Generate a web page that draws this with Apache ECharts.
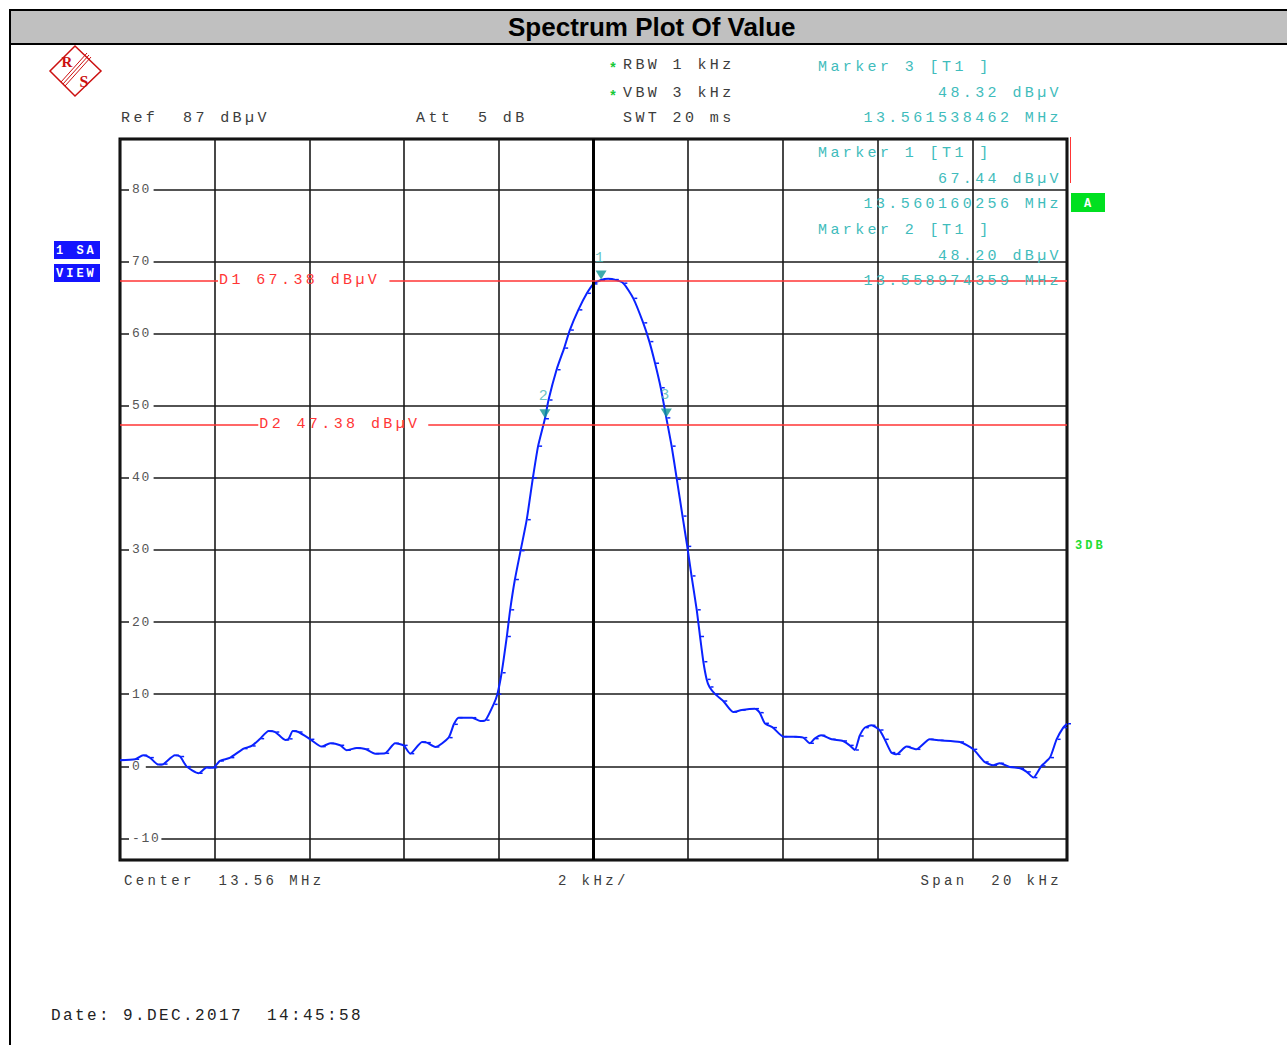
<!DOCTYPE html>
<html><head><meta charset="utf-8">
<script src="https://cdn.jsdelivr.net/npm/echarts@6/dist/echarts.min.js"></script>
<style>
html,body{margin:0;padding:0;background:#fff;}
#c{width:1287px;height:1045px;}
#c text{white-space:pre;}
#c text[style*="Mono"]{letter-spacing:3.4px;}
#c text[style*="Mono"][style*="13px"]{letter-spacing:1.7px;}
#c text[style*="Mono"][style*="16px"]{letter-spacing:2.4px;}
#c text[style*="Mono"][style*="12px"]{letter-spacing:3px;}
</style></head><body><div id="c"></div>
<script>
// ---- data (frequency offset from 13.56 MHz in kHz, level in dBµV)
const freqOffsetKHz = [-10.0,-9.68,-9.51,-9.37,-9.19,-9.08,-8.84,-8.73,-8.59,-8.34,-8.17,-8.03,-7.89,-7.67,-7.39,-7.22,-7.04,-6.86,-6.72,-6.51,-6.44,-6.35,-6.23,-5.98,-5.74,-5.56,-5.35,-5.21,-5.00,-4.82,-4.61,-4.40,-4.19,-4.01,-3.87,-3.62,-3.52,-3.34,-3.06,-2.95,-2.85,-2.56,-2.39,-2.28,-2.11,-2.03,-1.94,-1.83,-1.76,-1.66,-1.54,-1.41,-1.28,-1.17,-1.026,-0.95,-0.78,-0.62,-0.50,-0.32,-0.14,0.0,0.16,0.31,0.45,0.63,0.84,1.05,1.18,1.30,1.42,1.538,1.65,1.76,1.88,1.98,2.07,2.18,2.25,2.32,2.39,2.45,2.57,2.74,2.95,3.13,3.41,3.51,3.62,3.79,4.01,4.22,4.43,4.57,4.67,4.81,5.03,5.27,5.41,5.52,5.62,5.73,5.87,6.04,6.15,6.29,6.40,6.61,6.82,7.10,7.31,7.74,8.02,8.26,8.44,8.58,8.79,9.01,9.15,9.29,9.46,9.64,9.78,9.92,10.0];
const levelDbuV = [0.85,0.97,1.52,1.2,0.23,0.3,1.52,1.35,-0.05,-0.97,-0.18,-0.2,0.74,1.2,2.45,2.82,3.83,4.89,4.75,3.65,3.8,4.89,4.75,3.74,2.73,3.19,2.91,2.22,2.54,2.4,1.75,1.8,3.19,2.9,1.75,3.37,3.28,2.68,3.97,5.82,6.74,6.74,6.28,6.4,8.59,10.0,12.97,18.0,21.7,25.9,29.9,34.2,40.0,44.4,48.2,50.8,55.0,58.0,60.5,63.3,65.6,66.9,67.44,67.6,67.5,67.0,64.9,61.5,58.9,55.9,52.5,48.32,44.4,39.8,34.7,30.5,26.4,21.7,18.0,14.5,12.05,11.0,10.0,9.05,7.52,7.8,7.99,7.44,5.96,5.36,4.11,4.11,3.97,3.19,3.83,4.29,3.74,3.51,2.9,2.26,4.2,5.36,5.68,5.03,3.74,1.9,1.66,2.73,2.35,3.74,3.6,3.37,2.35,0.6,0.14,0.42,-0.1,-0.28,-0.78,-1.57,0.05,1.2,3.74,5.36,5.9];

const markerNames = ['1','2','3'];
const markerFreqKHz = [0.160256, -1.025641, 1.538462];
const markerFreqMHz = ['13.560160256','13.558974359','13.561538462'];
const markerLevel = [67.44, 48.20, 48.32];

const displayLineNames = ['D1','D2'];
const displayLineLevels = [67.38, 47.38];

const refLevel = 87, bottomLevel = -13;
const spanKHz = [-10, 10], divKHz = 2;

const headerLeft = ['Ref  87 dBµV', 'Att  5 dB'];
const headerBw = ['RBW 1 kHz', 'VBW 3 kHz', 'SWT 20 ms'];
const footer = ['Center  13.56 MHz', '2 kHz/', 'Span  20 kHz'];
const dateText = 'Date: 9.DEC.2017  14:45:58';
const titleText = 'Spectrum Plot Of Value';

// ---- layout (not data)
const dGap = [[-7.93, -4.31], [-7.08, -3.49]]; // where each display-line label interrupts the line

const MONO = 'Liberation Mono';
const TEAL = '#3fbcbc', GREY = '#3c3c3c', RED = '#ff3535', BLUE = '#0a22ff';

function t(x, y, text, o) {
  o = o || {};
  return { type: 'text', x: x, y: y, z: o.z || 10, silent: true,
    style: { text: text, fill: o.color || GREY, fontFamily: o.font || MONO, fontSize: o.size || 15,
      fontWeight: o.weight || 'normal', textAlign: o.align || 'left', textVerticalAlign: 'middle' } };
}

const graphics = [
  { type: 'rect', shape: { x: 10, y: 11, width: 1277, height: 33 }, style: { fill: '#c0c0c0' }, z: -5, silent: true },
  { type: 'line', shape: { x1: 9, y1: 10, x2: 1287, y2: 10 }, style: { stroke: '#000', lineWidth: 2 }, z: -4, silent: true },
  { type: 'line', shape: { x1: 9, y1: 44, x2: 1287, y2: 44 }, style: { stroke: '#000', lineWidth: 2 }, z: -4, silent: true },
  { type: 'line', shape: { x1: 10, y1: 9, x2: 10, y2: 1045 }, style: { stroke: '#000', lineWidth: 2 }, z: -4, silent: true },
  // R&S logo
  { type: 'polygon', shape: { points: [[75, 46], [101, 71], [75, 96], [50, 71]] }, style: { fill: 'none', stroke: '#cc1010', lineWidth: 1.5 }, silent: true },
  { type: 'line', shape: { x1: 89, y1: 55, x2: 63, y2: 84 }, style: { stroke: '#cc1010', lineWidth: 1 }, silent: true },
  { type: 'line', shape: { x1: 91, y1: 57, x2: 65, y2: 86 }, style: { stroke: '#cc1010', lineWidth: 1 }, silent: true },
  { type: 'line', shape: { x1: 87, y1: 53, x2: 61, y2: 82 }, style: { stroke: '#cc1010', lineWidth: 1 }, silent: true },
  t(67, 62, 'R', { font: 'Liberation Serif', size: 15, weight: 'bold', color: '#cc1010', align: 'center' }),
  t(84, 81, 'S', { font: 'Liberation Serif', size: 16, weight: 'bold', color: '#cc1010', align: 'center' }),
  // header
  t(121, 118, headerLeft[0]), t(416, 118, headerLeft[1]),
  t(613, 67, '*', { color: '#18c838', weight: 'bold', font: 'Liberation Sans', size: 14, align: 'center' }),
  t(613, 95, '*', { color: '#18c838', weight: 'bold', font: 'Liberation Sans', size: 14, align: 'center' }),
  t(623, 65, headerBw[0]), t(623, 93, headerBw[1]), t(623, 118, headerBw[2]),
  // footer
  t(124, 881, footer[0], { size: 14 }), t(558, 881, footer[1], { size: 14 }), t(1062, 881, footer[2], { size: 14, align: 'right' }),
  t(51, 1016, dateText, { size: 16, color: '#222' }),
  // status boxes
  { type: 'rect', shape: { x: 54, y: 241, width: 46, height: 18 }, style: { fill: '#1414ff' }, silent: true },
  { type: 'rect', shape: { x: 54, y: 264, width: 46, height: 18 }, style: { fill: '#1414ff' }, silent: true },
  t(56, 251, '1 SA', { color: '#fff', weight: 'bold', size: 12 }),
  t(56, 274, 'VIEW', { color: '#fff', weight: 'bold', size: 12 }),
  { type: 'rect', shape: { x: 1071, y: 193, width: 34, height: 19 }, style: { fill: '#00e020' }, silent: true },
  t(1089, 204, 'A', { color: '#fff', weight: 'bold', size: 12, align: 'center' }),
  t(1075, 546, '3DB', { color: '#22dd33', weight: 'bold', size: 12 }),
  { type: 'line', shape: { x1: 1070.5, y1: 137, x2: 1070.5, y2: 183 }, style: { stroke: RED, lineWidth: 1 }, silent: true }
];

// marker readouts: marker 3 above the grid, markers 1 and 2 inside
const readoutRows = [[2, 67], [0, 153], [1, 230]];
readoutRows.forEach(function (r) {
  const i = r[0], y = r[1];
  graphics.push(t(818, y, 'Marker ' + markerNames[i] + ' [T1 ]', { color: TEAL }));
  graphics.push(t(1062, y + 26, markerLevel[i].toFixed(2) + ' dBµV', { color: TEAL, align: 'right' }));
  graphics.push(t(1062, y + 51, markerFreqMHz[i] + ' MHz', { color: TEAL, align: 'right' }));
});

const traceData = freqOffsetKHz.map(function (f, i) { return [f, levelDbuV[i]]; });
const markerData = markerFreqKHz.map(function (f, i) { return { name: markerNames[i], value: [f, markerLevel[i]] }; });

const dLineData = [];
displayLineLevels.forEach(function (lv, i) {
  dLineData.push([{ coord: [spanKHz[0], lv] }, { coord: [dGap[i][0], lv],
    label: { show: true, position: 'end', distance: 1, formatter: displayLineNames[i] + ' ' + lv.toFixed(2) + ' dBµV',
      color: RED, fontFamily: MONO, fontSize: 15 } }]);
  dLineData.push([{ coord: [dGap[i][1], lv] }, { coord: [spanKHz[1], lv] }]);
});

const gridLine = { show: true, lineStyle: { color: '#1a1a1a', width: 1.6, type: 'solid' } };

const chart = echarts.init(document.getElementById('c'), null, { renderer: 'svg' });
chart.setOption({
  animation: false,
  backgroundColor: '#fff',
  title: { text: titleText, left: 503, top: 9,
    textStyle: { fontFamily: 'Liberation Sans', fontWeight: 'bold', fontSize: 26, color: '#000' } },
  grid: { left: 120, top: 139, width: 947, height: 721, show: true, borderColor: '#000', borderWidth: 3 },
  xAxis: { type: 'value', min: spanKHz[0], max: spanKHz[1], interval: divKHz,
    axisLine: { show: false }, axisTick: { show: false }, axisLabel: { show: false }, splitLine: gridLine },
  yAxis: { type: 'value', min: bottomLevel, max: refLevel, splitNumber: 10,
    axisLine: { show: false }, axisTick: { show: false }, splitLine: gridLine,
    axisLabel: { inside: true, margin: 9, showMinLabel: false, showMaxLabel: false,
      color: '#555', fontFamily: MONO, fontSize: 13, backgroundColor: '#fff', padding: [1, 6, 0, 3] } },
  graphic: graphics,
  series: [
    { name: 'center', type: 'line', data: [], z: 2, silent: true,
      markLine: { silent: true, symbol: 'none', label: { show: false },
        lineStyle: { color: '#000', width: 3, type: 'solid' }, data: [{ xAxis: 0 }] } },
    { name: 'display lines', type: 'line', data: [], z: 3, silent: true,
      markLine: { silent: true, symbol: 'none', lineStyle: { color: RED, width: 1.5, type: 'solid' }, data: dLineData } },
    { name: 'Trace 1', type: 'line', data: traceData, z: 4, showSymbol: true, symbol: 'rect',
      symbolSize: [3, 1.5], symbolOffset: [2.5, 0], smooth: 0.2,
      lineStyle: { color: BLUE, width: 2 }, itemStyle: { color: BLUE } },
    { name: 'Markers', type: 'scatter', data: markerData, z: 5, symbol: 'triangle', symbolRotate: 180,
      symbolSize: [11, 9], symbolOffset: [0, -5], itemStyle: { color: '#0e9696' },
      label: { show: true, position: 'top', distance: 5, formatter: '{b}', color: '#44b4b4', fontFamily: MONO, fontSize: 15 } }
  ]
});
</script></body></html>
